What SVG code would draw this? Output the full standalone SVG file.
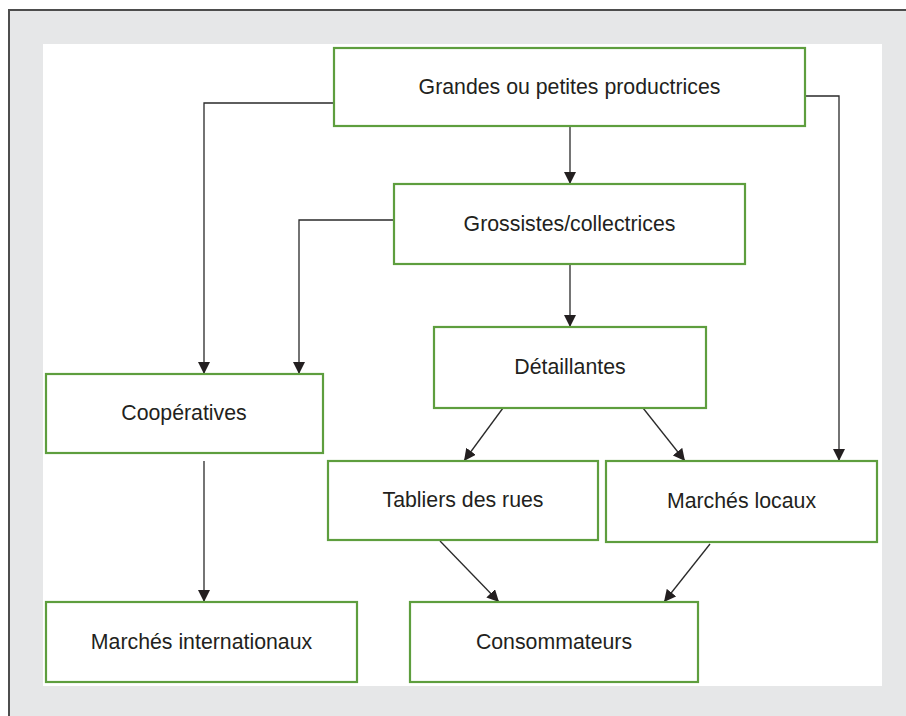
<svg xmlns="http://www.w3.org/2000/svg" width="906" height="716" viewBox="0 0 906 716">
<style>
.box{fill:#fff;stroke:#5e9e3e;stroke-width:2.2}
.lbl{font-family:"Liberation Sans",Arial,sans-serif;font-size:21.3px;fill:#231f20;text-anchor:middle;dominant-baseline:central}
.edge{fill:none;stroke:#2a2a2a;stroke-width:1.3}
</style>
<defs>
<marker id="ah" viewBox="0 0 10 10" refX="10" refY="5" markerWidth="12" markerHeight="12" markerUnits="userSpaceOnUse" orient="auto">
<path d="M0,0 L10,5 L0,10 z" fill="#231f20"/>
</marker>
</defs>
<rect x="0" y="0" width="906" height="716" fill="#fff"/>
<rect x="9" y="10" width="910" height="720" fill="#e6e7e8"/>
<path d="M9,716 L9,10 L906,10" fill="none" stroke="#4d4d4d" stroke-width="2"/>
<rect x="43" y="44" width="839" height="642" fill="#fff"/>
<g id="connectors">
<path class="edge" d="M334,103 H204 V374" marker-end="url(#ah)"/>
<path class="edge" d="M805,96 H839 V461" marker-end="url(#ah)"/>
<path class="edge" d="M570,126 V184" marker-end="url(#ah)"/>
<path class="edge" d="M394,220 H299 V374" marker-end="url(#ah)"/>
<path class="edge" d="M570,264 V327" marker-end="url(#ah)"/>
<path class="edge" d="M503,408 L464,461" marker-end="url(#ah)"/>
<path class="edge" d="M643,408 L685,461" marker-end="url(#ah)"/>
<path class="edge" d="M204,461 V602" marker-end="url(#ah)"/>
<path class="edge" d="M440,541 L499,602" marker-end="url(#ah)"/>
<path class="edge" d="M710,544 L664,602" marker-end="url(#ah)"/>
</g>
<g id="n-producers"><rect class="box" x="334" y="48" width="471" height="78"/><text class="lbl" x="569.5" y="87">Grandes ou petites productrices</text></g>
<g id="n-wholesale"><rect class="box" x="394" y="184" width="351" height="80"/><text class="lbl" x="569.5" y="224">Grossistes/collectrices</text></g>
<g id="n-retail"><rect class="box" x="434" y="327" width="272" height="81"/><text class="lbl" x="570" y="367">Détaillantes</text></g>
<g id="n-coop"><rect class="box" x="46" y="374" width="277" height="79"/><text class="lbl" x="184" y="413">Coopératives</text></g>
<g id="n-street"><rect class="box" x="328" y="461" width="270" height="79"/><text class="lbl" x="463" y="500">Tabliers des rues</text></g>
<g id="n-local"><rect class="box" x="606" y="461" width="271" height="81"/><text class="lbl" x="741.5" y="501">Marchés locaux</text></g>
<g id="n-intl"><rect class="box" x="46" y="602" width="311" height="80"/><text class="lbl" x="201.5" y="642">Marchés internationaux</text></g>
<g id="n-consumers"><rect class="box" x="410" y="602" width="288" height="80"/><text class="lbl" x="554" y="642">Consommateurs</text></g>
</svg>
